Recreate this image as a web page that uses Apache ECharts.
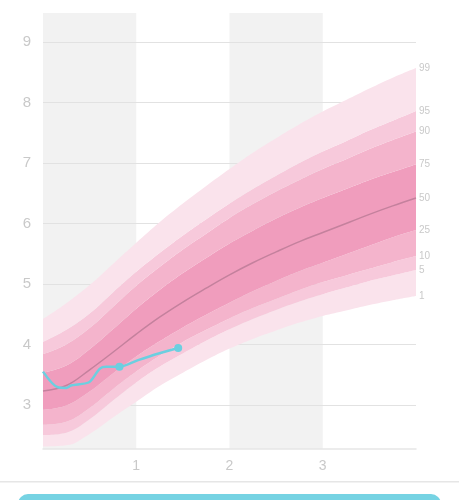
<!DOCTYPE html>
<html>
<head>
<meta charset="utf-8">
<script src="https://cdn.jsdelivr.net/npm/echarts@6/dist/echarts.min.js"></script>
<style>
  html, body { margin: 0; padding: 0; background: #fff; }
  #chart { width: 459px; height: 500px; }
</style>
</head>
<body>
<div id="chart"></div>
<script>
// ages (x) where the reference curves were read
const xs = [0, 0.25, 0.5, 0.75, 1, 1.25, 1.5, 1.75, 2, 2.25, 2.5, 2.75, 3, 3.25, 3.5, 3.75, 4];

// percentile curves
const p1  = [2.31, 2.33, 2.52, 2.79, 3.05, 3.31, 3.53, 3.74, 3.93, 4.09, 4.23, 4.36, 4.47, 4.56, 4.65, 4.73, 4.80];
const p5  = [2.50, 2.54, 2.76, 3.07, 3.37, 3.63, 3.85, 4.06, 4.25, 4.42, 4.57, 4.71, 4.83, 4.94, 5.05, 5.14, 5.23];
const p10 = [2.67, 2.72, 2.95, 3.26, 3.55, 3.81, 4.04, 4.24, 4.43, 4.60, 4.75, 4.90, 5.03, 5.14, 5.25, 5.36, 5.46];
const p25 = [2.92, 2.99, 3.22, 3.52, 3.80, 4.05, 4.28, 4.49, 4.69, 4.88, 5.05, 5.21, 5.35, 5.49, 5.63, 5.77, 5.89];
const p50 = [3.23, 3.32, 3.58, 3.87, 4.17, 4.45, 4.70, 4.93, 5.15, 5.35, 5.53, 5.70, 5.85, 6.00, 6.15, 6.29, 6.42];
const p75 = [3.53, 3.65, 3.92, 4.25, 4.59, 4.90, 5.18, 5.43, 5.67, 5.88, 6.08, 6.26, 6.42, 6.57, 6.72, 6.85, 6.98];
const p90 = [3.84, 4.00, 4.27, 4.62, 4.97, 5.28, 5.57, 5.83, 6.09, 6.32, 6.53, 6.72, 6.90, 7.06, 7.23, 7.38, 7.52];
const p95 = [4.04, 4.24, 4.51, 4.86, 5.20, 5.51, 5.80, 6.07, 6.33, 6.57, 6.79, 7.00, 7.19, 7.36, 7.54, 7.70, 7.86];
const p99 = [4.42, 4.68, 4.98, 5.33, 5.68, 6.02, 6.33, 6.62, 6.90, 7.17, 7.41, 7.64, 7.85, 8.04, 8.23, 8.41, 8.57];

// measurements
const measureX = [0, 0.16, 0.25, 0.30, 0.39, 0.50, 0.61, 0.68, 0.82, 1.02, 1.24, 1.45];
const measureY = [3.55, 3.29, 3.28, 3.32, 3.34, 3.38, 3.60, 3.63, 3.63, 3.74, 3.85, 3.94];
const markedIdx = [8, 11];

const xTicks = [1, 2, 3];

const chart = echarts.init(document.getElementById('chart'));

// value first so that the stack runs on y (x is a value axis too)
const stackPairs = (hi, lo) => xs.map((x, i) => [lo ? +(hi[i] - lo[i]).toFixed(3) : hi[i], x]);

const LABEL_GREY = '#c9c9c9';
const FONT = 'Helvetica, Arial, sans-serif';

const endLabel = text => ({
  show: true,
  formatter: text,
  color: LABEL_GREY,
  fontSize: 10,
  fontFamily: FONT,
  distance: 3
});

const band = (name, data, color, label) => ({
  name: name,
  type: 'line',
  stack: 'pct',
  smooth: 0.4,
  showSymbol: false,
  silent: true,
  encode: { x: 1, y: 0 },
  data: data,
  lineStyle: { width: 0, color: 'rgba(0,0,0,0)' },
  areaStyle: color ? { color: color, opacity: 1 } : undefined,
  endLabel: endLabel(label),
  z: 3
});

const option = {
  animation: false,
  grid: { left: 43, right: 43, top: 13, bottom: 51 },
  xAxis: {
    type: 'value',
    min: 0,
    max: 4,
    interval: 1,
    z: 0,
    axisLine: { lineStyle: { color: '#e6e6e6', width: 1.5 } },
    axisTick: { show: false },
    axisLabel: {
      color: LABEL_GREY,
      fontSize: 14,
      fontFamily: FONT,
      margin: 10,
      formatter: v => (xTicks.indexOf(v) >= 0 ? String(v) : '')
    },
    splitLine: { show: false },
    splitArea: { show: true, areaStyle: { color: ['#f2f2f2', 'rgba(255,255,255,0)'] } }
  },
  yAxis: {
    type: 'value',
    min: 2.27,
    max: 9.48,
    splitNumber: 7,
    z: 1,
    axisLine: { show: false },
    axisTick: { show: false },
    axisLabel: {
      color: LABEL_GREY,
      fontSize: 15,
      fontFamily: FONT,
      margin: 12,
      showMinLabel: false,
      showMaxLabel: false
    },
    splitLine: {
      show: true,
      showMinLine: false,
      showMaxLine: false,
      lineStyle: { color: '#e2e2e2', width: 1 }
    }
  },
  series: [
    band('p1', stackPairs(p1), null, '1'),
    band('p5', stackPairs(p5, p1), '#fae3ec', '5'),
    band('p10', stackPairs(p10, p5), '#f7c9db', '10'),
    band('p25', stackPairs(p25, p10), '#f4b4cc', '25'),
    band('p75', stackPairs(p75, p25), '#f09dbd', '75'),
    band('p90', stackPairs(p90, p75), '#f4b4cc', '90'),
    band('p95', stackPairs(p95, p90), '#f7c9db', '95'),
    band('p99', stackPairs(p99, p95), '#fae3ec', '99'),
    {
      name: 'p50',
      type: 'line',
      smooth: 0.4,
      showSymbol: false,
      silent: true,
      data: xs.map((x, i) => [x, p50[i]]),
      lineStyle: { width: 1.5, color: '#c4819d' },
      endLabel: endLabel('50'),
      z: 4
    },
    {
      name: 'measure',
      type: 'line',
      smooth: 0.3,
      showSymbol: true,
      symbol: 'none',
      data: measureX.map((x, i) => markedIdx.indexOf(i) >= 0
        ? { value: [x, measureY[i]], symbol: 'circle', symbolSize: 8 }
        : [x, measureY[i]]),
      lineStyle: { width: 2.5, color: '#6ccfe0' },
      itemStyle: { color: '#6ccfe0' },
      z: 5
    }
  ],
  graphic: [
    {
      type: 'rect',
      left: 0,
      top: 481,
      shape: { width: 459, height: 1.5 },
      style: { fill: '#e6e6e6' },
      silent: true
    },
    {
      type: 'rect',
      left: 18,
      top: 494,
      shape: { width: 423, height: 30, r: 10 },
      style: { fill: '#76d3e3' },
      silent: true
    }
  ]
};

chart.setOption(option);
</script>
</body>
</html>
